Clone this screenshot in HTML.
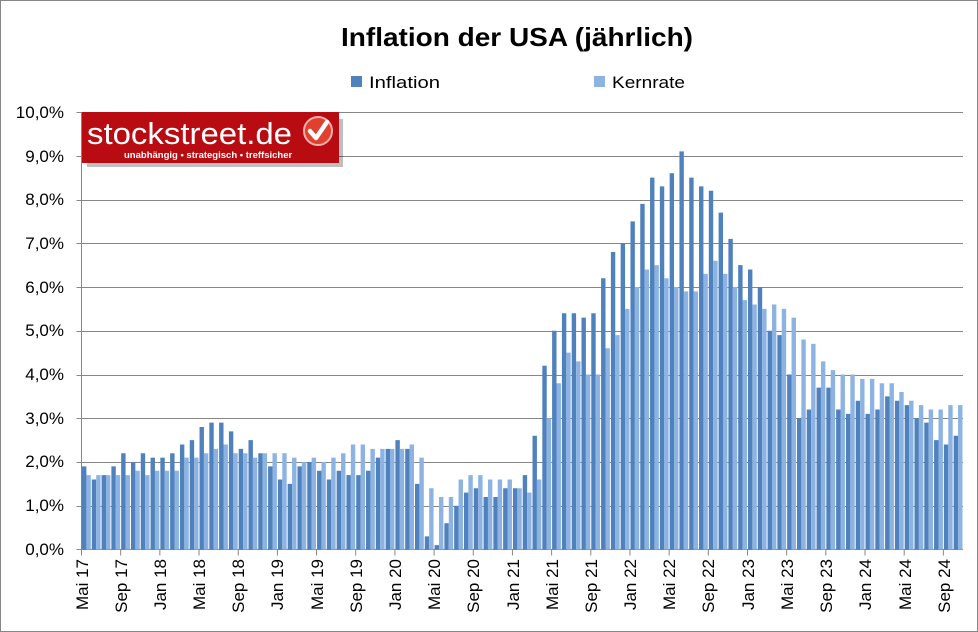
<!DOCTYPE html>
<html><head><meta charset="utf-8"><style>
body{margin:0;background:#fff}
svg{display:block;font-family:"Liberation Sans","DejaVu Sans",sans-serif}
</style></head><body>
<svg id="s" width="978" height="632" viewBox="0 0 978 632" xmlns="http://www.w3.org/2000/svg">
<rect x="0.5" y="0.5" width="977" height="631" fill="#fff" stroke="#868686"/>
<text x="517" y="46" text-anchor="middle" font-size="26" font-weight="bold" fill="#000" textLength="352" lengthAdjust="spacingAndGlyphs">Inflation der USA (jährlich)</text>
<rect x="351" y="76" width="11" height="11" fill="#4f81bd"/>
<text x="369" y="88" font-size="17" textLength="71" lengthAdjust="spacingAndGlyphs">Inflation</text>
<rect x="594" y="76" width="11" height="11" fill="#8db3e2"/>
<text x="612" y="88" font-size="17" textLength="73" lengthAdjust="spacingAndGlyphs">Kernrate</text>
<g id="grid" stroke="#868686" stroke-width="1"></g>
<g id="bars"></g>
<g font-size="17" text-anchor="end">
<text x="64" y="118">10,0%</text><text x="64" y="162">9,0%</text><text x="64" y="205">8,0%</text>
<text x="64" y="249">7,0%</text><text x="64" y="293">6,0%</text><text x="64" y="336">5,0%</text>
<text x="64" y="380">4,0%</text><text x="64" y="424">3,0%</text><text x="64" y="467">2,0%</text>
<text x="64" y="511">1,0%</text><text x="64" y="555">0,0%</text>
</g>
<g font-size="17" text-anchor="end">
<text transform="translate(88,559) rotate(-90)">Mai 17</text>
<text transform="translate(127,559) rotate(-90)">Sep 17</text>
<text transform="translate(166,559) rotate(-90)">Jan 18</text>
<text transform="translate(205,559) rotate(-90)">Mai 18</text>
<text transform="translate(244,559) rotate(-90)">Sep 18</text>
<text transform="translate(283,559) rotate(-90)">Jan 19</text>
<text transform="translate(323,559) rotate(-90)">Mai 19</text>
<text transform="translate(362,559) rotate(-90)">Sep 19</text>
<text transform="translate(401,559) rotate(-90)">Jan 20</text>
<text transform="translate(440,559) rotate(-90)">Mai 20</text>
<text transform="translate(479,559) rotate(-90)">Sep 20</text>
<text transform="translate(519,559) rotate(-90)">Jan 21</text>
<text transform="translate(558,559) rotate(-90)">Mai 21</text>
<text transform="translate(597,559) rotate(-90)">Sep 21</text>
<text transform="translate(636,559) rotate(-90)">Jan 22</text>
<text transform="translate(675,559) rotate(-90)">Mai 22</text>
<text transform="translate(714,559) rotate(-90)">Sep 22</text>
<text transform="translate(754,559) rotate(-90)">Jan 23</text>
<text transform="translate(793,559) rotate(-90)">Mai 23</text>
<text transform="translate(832,559) rotate(-90)">Sep 23</text>
<text transform="translate(871,559) rotate(-90)">Jan 24</text>
<text transform="translate(911,559) rotate(-90)">Mai 24</text>
<text transform="translate(950,559) rotate(-90)">Sep 24</text>
</g>
<g>
<rect x="84" y="116" width="256" height="48" fill="#000" opacity="0.25" transform="translate(3,3)"/>
<rect x="82" y="112" width="257" height="51" fill="#b80c12"/>
<text x="87" y="144" font-size="31" fill="#fff" textLength="205" lengthAdjust="spacingAndGlyphs">stockstreet.de</text>
<text x="124" y="158" font-size="9.5" fill="#fff" font-weight="bold">unabhängig • strategisch • treffsicher</text>
<circle cx="318" cy="131" r="14" fill="#e0402f" stroke="#f4b0a8" stroke-width="2"/>
<path d="M310 131 L316 138 L327 122" stroke="#fff" stroke-width="4.5" fill="none" stroke-linecap="round" stroke-linejoin="round"/>
</g>
</svg>
<script>
var inf=[1.9,1.6,1.7,1.9,2.2,2.0,2.2,2.1,
2.1,2.2,2.4,2.5,2.8,2.9,2.9,2.7,2.3,2.5,2.2,1.9,
1.6,1.5,1.9,2.0,1.8,1.6,1.8,1.7,1.7,1.8,2.1,2.3,
2.5,2.3,1.5,0.3,0.1,0.6,1.0,1.3,1.4,1.2,1.2,1.4,
1.4,1.7,2.6,4.2,5.0,5.4,5.4,5.3,5.4,6.2,6.8,7.0,
7.5,7.9,8.5,8.3,8.6,9.1,8.5,8.3,8.2,7.7,7.1,6.5,
6.4,6.0,5.0,4.9,4.0,3.0,3.2,3.7,3.7,3.2,3.1,3.4,
3.1,3.2,3.5,3.4,3.3,3.0,2.9,2.5,2.4,2.6];
var core=[1.7,1.7,1.7,1.7,1.7,1.8,1.7,1.8,
1.8,1.8,2.1,2.1,2.2,2.3,2.4,2.2,2.2,2.1,2.2,2.2,
2.2,2.1,2.0,2.1,2.0,2.1,2.2,2.4,2.4,2.3,2.3,2.3,
2.3,2.4,2.1,1.4,1.2,1.2,1.6,1.7,1.7,1.6,1.6,1.6,
1.4,1.3,1.6,3.0,3.8,4.5,4.3,4.0,4.0,4.6,4.9,5.5,
6.0,6.4,6.5,6.2,6.0,5.9,5.9,6.3,6.6,6.3,6.0,5.7,
5.6,5.5,5.6,5.5,5.3,4.8,4.7,4.3,4.1,4.0,4.0,3.9,
3.9,3.8,3.8,3.6,3.4,3.3,3.2,3.2,3.3,3.3];
var NS="http://www.w3.org/2000/svg",x0=81.5,w=9.794,y0=549.5,k=43.75,xr=963;
function el(t,a,p){var e=document.createElementNS(NS,t);for(var i in a)e.setAttribute(i,a[i]);p.appendChild(e);}
var g=document.getElementById('grid'),b=document.getElementById('bars');
for(var i=1;i<=10;i++){var y=Math.round(y0-i*k)+0.5;el('line',{x1:x0-5,x2:xr,y1:y,y2:y},g);}
el('line',{x1:x0-5,x2:xr,y1:y0,y2:y0},g);
el('line',{x1:x0,x2:x0,y1:112,y2:y0+5},g);
for(var m=0;m<=88;m+=4){var x=x0+m*w;el('line',{x1:x,x2:x,y1:y0,y2:y0+6},g);}
for(var i=0;i<90;i++){var x=x0+i*w;
el('rect',{x:x+0.5,y:y0-inf[i]*k,width:4.4,height:inf[i]*k,fill:'#4f81bd'},b);
el('rect',{x:x+4.9,y:y0-core[i]*k,width:4.4,height:core[i]*k,fill:'#8db3e2'},b);}
</script>
</body></html>
